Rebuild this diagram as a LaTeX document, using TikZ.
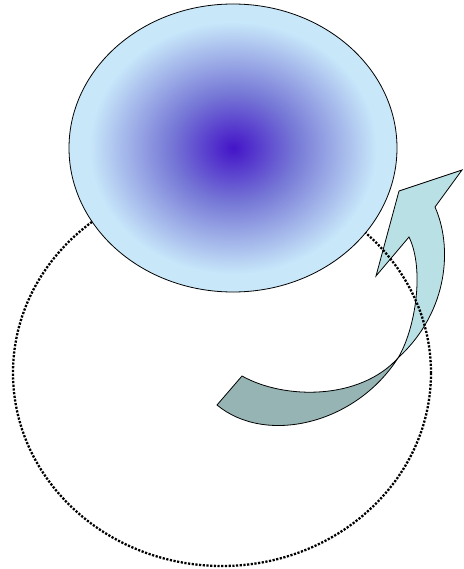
\documentclass[tikz,border=0pt]{standalone}
\usepackage{xcolor}
\usepackage{tikz}
\usetikzlibrary{calc, positioning}

\definecolor{ballin}{RGB}{68,20,200}
\definecolor{ballmid}{RGB}{118,120,214}
\definecolor{ballout}{RGB}{200,232,250}
\definecolor{arrowfront}{RGB}{185,224,228}
\definecolor{arrowback}{RGB}{150,180,180}
\pgfdeclareradialshading{ballshade}{\pgfpoint{0bp}{0bp}}{color(0bp)=(ballin); color(9.5bp)=(ballmid); color(22bp)=(ballout); color(50bp)=(ballout)}

\begin{document}
\begin{tikzpicture}[x=1pt, y=-1pt]
    \useasboundingbox (0,0) rectangle (463,569);
    % Tâm các hình elip
    \coordinate (O1) at (233,148);
    \coordinate (O2) at (222,373);

    % Mũi tên cong (mặt sau)
    \draw[fill=arrowback, line width=0.8pt, line join=round]
        (217,405) -- (242,376)
        .. controls (285,400) and (360,400) .. (398,358)
        .. controls (355,425) and (265,445) .. (217,405) -- cycle;
    % Mũi tên cong (mặt trước)
    \draw[fill=arrowfront, line width=0.8pt, line join=miter]
        (398,358) .. controls (415,330) and (425,270) .. (409,237)
        -- (376,276) -- (399,191) -- (462,170) -- (435,207)
        .. controls (452,245) and (450,310) .. (398,358) -- cycle;

    % Elip nét chấm
    \draw[line width=2.3pt, dash pattern=on 2.2pt off 1.5pt] (O2) ellipse [x radius=209, y radius=193];

    % Elip tô màu chuyển sắc
    \shade[shading=ballshade] (O1) ellipse [x radius=164, y radius=144];
    \draw[line width=0.8pt] (O1) ellipse [x radius=164, y radius=144];
\end{tikzpicture}
\end{document}
